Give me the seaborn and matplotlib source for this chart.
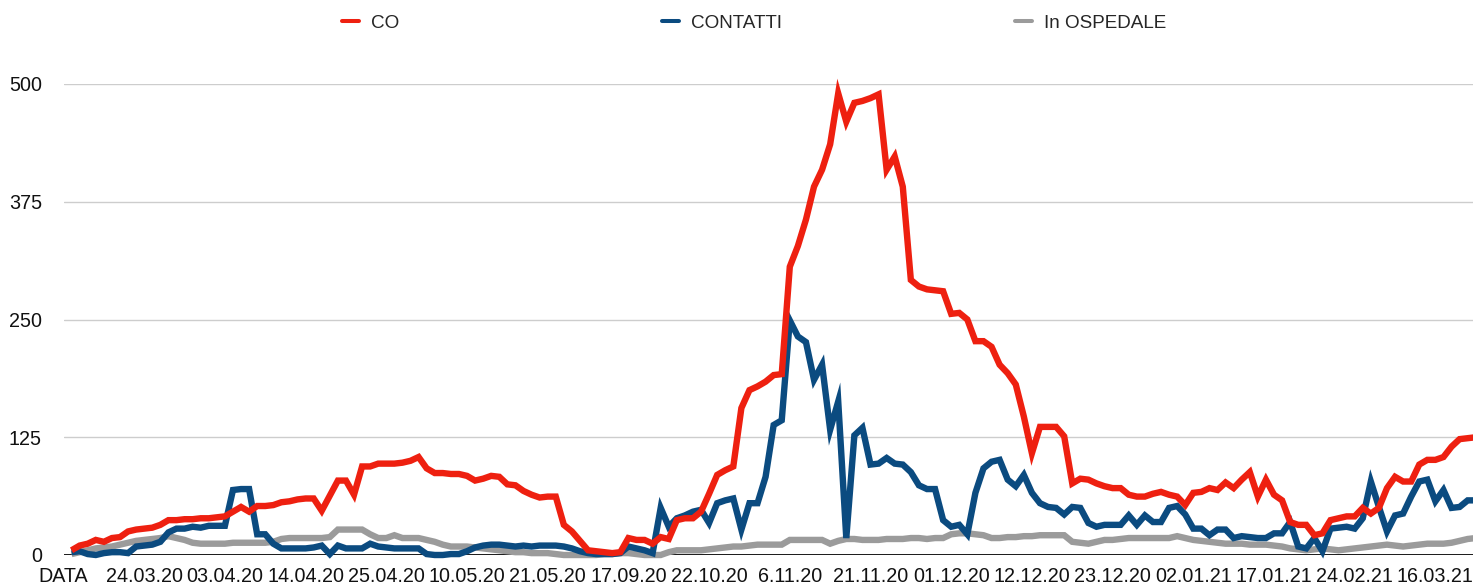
import numpy as np
import pandas as pd
import matplotlib
matplotlib.use("Agg")
import matplotlib.pyplot as plt
import seaborn as sns
from matplotlib.lines import Line2D

# ---------------- data ----------------
x_labels = ["DATA", "24.03.20", "03.04.20", "14.04.20", "25.04.20", "10.05.20",
            "21.05.20", "17.09.20", "22.10.20", "6.11.20", "21.11.20", "01.12.20",
            "12.12.20", "23.12.20", "02.01.21", "17.01.21", "24.02.21", "16.03.21"]

co = [5, 10, 12, 16, 14, 18, 19, 25, 27, 28,
      29, 32, 37, 37, 38, 38, 39, 39, 40, 41,
      46, 51, 46, 52, 52, 53, 56, 57, 59, 60,
      60, 47, 63, 79, 79, 64, 94, 94, 97, 97,
      97, 98, 100, 104, 92, 87, 87, 86, 86, 84,
      79, 81, 84, 83, 75, 74, 68, 64, 61, 62,
      62, 32, 25, 15, 5, 4, 3, 2, 3, 18,
      16, 16, 12, 19, 17, 37, 39, 39, 46, 65,
      85, 90, 94, 156, 175, 179, 184, 191, 192, 306,
      328, 356, 391, 409, 436, 490, 460, 480, 482, 485,
      489, 409, 423, 391, 292, 285, 282, 281, 280, 256,
      257, 250, 227, 227, 221, 202, 193, 181, 147, 108,
      136, 136, 136, 126, 76, 81, 80, 76, 73, 71,
      71, 64, 62, 62, 65, 67, 64, 62, 53, 66,
      67, 71, 69, 77, 71, 80, 88, 62, 80, 64,
      58, 35, 32, 32, 21, 23, 37, 39, 41, 41,
      50, 44, 50, 71, 83, 78, 78, 96, 101, 101,
      104, 115, 123, 124, 125]

contatti = [3, 4, 1, 0, 2, 3, 3, 2, 9, 10,
            11, 14, 24, 28, 28, 30, 29, 31, 31, 31,
            69, 70, 70, 22, 22, 12, 7, 7, 7, 7,
            8, 10, 1, 10, 7, 7, 7, 12, 9, 8,
            7, 7, 7, 7, 1, 0, 0, 1, 1, 4,
            8, 10, 11, 11, 10, 9, 10, 9, 10, 10,
            10, 9, 7, 4, 2, 1, 1, 1, 2, 9,
            7, 5, 2, 50, 30, 39, 42, 46, 48, 34,
            55, 58, 60, 27, 55, 55, 83, 138, 143, 249,
            232, 226, 186, 202, 133, 163, 18, 127, 135, 96,
            97, 103, 97, 96, 88, 74, 70, 70, 37, 30,
            32, 22, 66, 92, 99, 101, 80, 73, 85, 66,
            55, 51, 50, 43, 51, 50, 34, 30, 32, 32,
            32, 42, 32, 42, 35, 35, 50, 52, 43, 28,
            28, 21, 27, 27, 18, 20, 19, 18, 18, 23,
            23, 35, 9, 7, 18, 4, 28, 29, 30, 28,
            39, 78, 51, 25, 42, 44, 62, 78, 80, 57,
            69, 50, 51, 58, 58]

ospedale = [1, 3, 5, 7, 8, 9, 11, 13, 15, 16,
            17, 18, 20, 18, 16, 13, 12, 12, 12, 12,
            13, 13, 13, 13, 13, 14, 17, 18, 18, 18,
            18, 18, 19, 27, 27, 27, 27, 22, 18, 18,
            21, 18, 18, 18, 16, 14, 11, 9, 9, 9,
            8, 7, 6, 5, 4, 3, 3, 2, 2, 2,
            1, 0, 0, 0, 0, 0, 1, 1, 2, 2,
            1, 0, 0, 0, 3, 5, 5, 5, 5, 6,
            7, 8, 9, 9, 10, 11, 11, 11, 11, 16,
            16, 16, 16, 16, 12, 15, 17, 17, 16, 16,
            16, 17, 17, 17, 18, 18, 17, 18, 18, 22,
            23, 23, 22, 21, 18, 18, 19, 19, 20, 20,
            21, 21, 21, 21, 14, 13, 12, 14, 16, 16,
            17, 18, 18, 18, 18, 18, 18, 20, 18, 16,
            15, 14, 13, 12, 12, 12, 11, 11, 11, 10,
            9, 7, 6, 5, 6, 7, 6, 5, 6, 7,
            8, 9, 10, 11, 10, 9, 10, 11, 12, 12,
            12, 13, 15, 17, 18]

series_names = ["CO", "CONTATTI", "In OSPEDALE"]
colors = {"CO": "#EE2010", "CONTATTI": "#0B4B80", "In OSPEDALE": "#9B9B9B"}

idx = list(range(1, len(co) + 1))
df = pd.DataFrame({
    "idx": idx * 3,
    "value": co + contatti + ospedale,
    "serie": ["CO"] * len(co) + ["CONTATTI"] * len(contatti) + ["In OSPEDALE"] * len(ospedale),
})

# ---------------- figure ----------------
sns.set_theme(style="white")
plt.rcParams["font.family"] = ["Liberation Sans", "DejaVu Sans"]

W, H = 1473, 586
fig = plt.figure(figsize=(W / 100, H / 100), dpi=100)
ax_left, ax_right, ax_top, ax_bot = 63.5, W, 84, 555
ax = fig.add_axes([ax_left / W, (H - ax_bot) / H, (ax_right - ax_left) / W, (ax_bot - ax_top) / H])

sns.lineplot(data=df, x="idx", y="value", hue="serie",
             hue_order=["In OSPEDALE", "CONTATTI", "CO"], palette=colors,
             linewidth=4.6, legend=False, ax=ax, sort=False, estimator=None)
for ln in ax.lines:
    ln.set_solid_joinstyle("miter")
    ln.set_solid_capstyle("butt")
    ln.set_clip_on(False)
    ln.set_zorder(3)

ax.set_xlim(0, (ax_right - ax_left) / 8.07)
ax.set_ylim(0, 500)
ax.set_yticks([0, 125, 250, 375, 500])
ax.set_xticks(list(range(0, 10 * len(x_labels), 10)))
ax.set_xticklabels(x_labels)
ax.set_xlabel("")
ax.set_ylabel("")
ax.yaxis.grid(True, color="#CDCDCD", linewidth=1.0)
ax.xaxis.grid(False)
ax.set_axisbelow(True)
for s in ax.spines.values():
    s.set_visible(False)
ax.axhline(0, color="#1A1A1A", linewidth=1.4, zorder=2)
ax.tick_params(axis="x", length=0, pad=9, labelsize=14.2, labelcolor="#111111")
ax.tick_params(axis="y", length=0, pad=15.5, labelsize=14.2, labelcolor="#111111")

# legend entries across the top
legend_x = {"CO": 341.5, "CONTATTI": 662, "In OSPEDALE": 1015}
for name in series_names:
    lg = fig.legend(handles=[Line2D([], [], color=colors[name], linewidth=2.9)],
                    labels=[name], loc="center left",
                    bbox_to_anchor=(legend_x[name] / W, 1 - 23.5 / H),
                    frameon=False, fontsize=13.6, handlelength=0.92,
                    handletextpad=0.64, borderpad=0, borderaxespad=0)

fig.savefig("out.png", dpi=100)
